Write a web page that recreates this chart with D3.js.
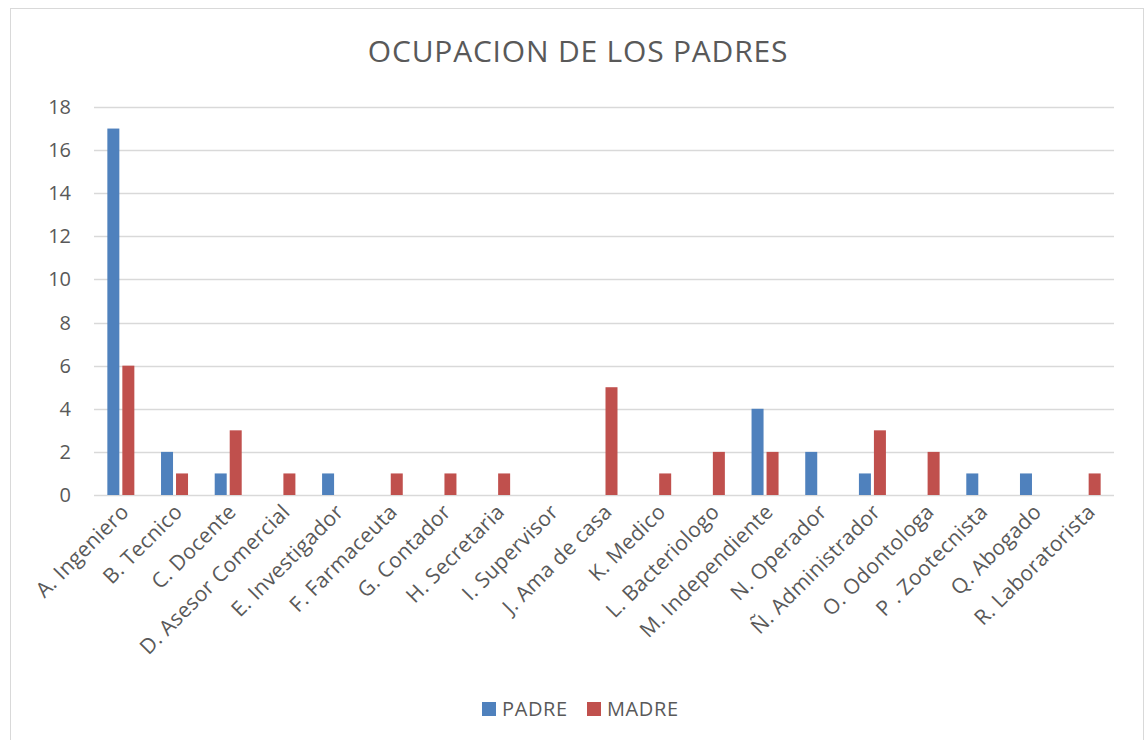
<!DOCTYPE html>
<html>
<head>
<meta charset="utf-8">
<script src="https://cdn.jsdelivr.net/npm/d3@7"></script>
<style>
  body { margin: 0; background: #fff; }
  text { font-family: "Open Sans", "Noto Sans", sans-serif; fill: #595959; }
</style>
</head>
<body>
<svg id="chart"></svg>
<script>
// Chart data.
const categories = [
  "A. Ingeniero", "B. Tecnico", "C. Docente", "D. Asesor Comercial",
  "E. Investigador", "F. Farmaceuta", "G. Contador", "H. Secretaria",
  "I. Supervisor", "J. Ama de casa", "K. Medico", "L. Bacteriologo",
  "M. Independiente", "N. Operador", "Ñ. Administrador", "O. Odontologa",
  "P . Zootecnista", "Q. Abogado", "R. Laboratorista"
];
const padre = [17, 2, 1, 0, 1, 0, 0, 0, 0, 0, 0, 0, 4, 2, 1, 0, 1, 1, 0];
const madre = [6, 1, 3, 1, 0, 1, 1, 1, 0, 5, 1, 2, 2, 0, 3, 2, 0, 0, 1];
const seriesNames = ["PADRE", "MADRE"];
const seriesColors = ["#4f81bd", "#c0504d"];
const yTicks = [0, 2, 4, 6, 8, 10, 12, 14, 16, 18];

const width = 1147;
const height = 740;
const margin = { top: 107, bottom: 245, left: 94, right: 33 };

const svg = d3.select("#chart").attr("width", width).attr("height", height);

function translate(x, y) {
  return "translate(" + x + "," + y + ")";
}

// Chart border.
svg.append("rect")
  .attr("x", 10.5).attr("y", 8.5)
  .attr("width", 1133).attr("height", 740)
  .attr("fill", "#fff")
  .attr("stroke", "#d9d9d9");

const plotW = width - margin.left - margin.right;
const plotH = height - margin.top - margin.bottom;

const xScale = d3.scaleBand().domain(categories).range([0, plotW]);
const yScale = d3.scaleLinear().domain([0, 18]).range([plotH, 0]);

const plot = svg.append("g").attr("transform", translate(margin.left, margin.top));

// Gridlines.
plot.append("g")
  .selectAll("line")
  .data(yTicks)
  .join("line")
  .attr("x1", 0).attr("x2", plotW)
  .attr("y1", d => Math.round(yScale(d)) + 0.5)
  .attr("y2", d => Math.round(yScale(d)) + 0.5)
  .attr("stroke", "#d9d9d9")
  .attr("stroke-width", 1.3);

// Y tick labels.
plot.append("g")
  .selectAll("text")
  .data(yTicks)
  .join("text")
  .attr("x", -23)
  .attr("y", d => yScale(d))
  .attr("dy", "0.35em")
  .attr("text-anchor", "end")
  .style("font-size", "20px")
  .text(d => d);

// Bars.
const barW = 12;
const barGap = 3;
const rows = categories.map((c, i) => ({ cat: c, values: [padre[i], madre[i]] }));

seriesNames.forEach((name, s) => {
  plot.append("g")
    .selectAll("rect")
    .data(rows)
    .join("rect")
    .filter(d => d.values[s] > 0)
    .attr("x", d => xScale(d.cat) + xScale.bandwidth() / 2 + (s === 0 ? -barW - barGap / 2 : barGap / 2))
    .attr("y", d => yScale(d.values[s]))
    .attr("width", barW)
    .attr("height", d => yScale(0) - yScale(d.values[s]))
    .attr("fill", seriesColors[s]);
});

// Category labels, rotated.
plot.append("g")
  .selectAll("text")
  .data(categories)
  .join("text")
  .attr("transform", d => translate(xScale(d) + xScale.bandwidth() / 2 + 4, plotH + 13) + " rotate(-45)")
  .attr("text-anchor", "end")
  .attr("dy", "0.35em")
  .style("font-size", "21px")
  .style("letter-spacing", "0.3px")
  .text(d => d);

// Title.
svg.append("text")
  .attr("x", 578)
  .attr("y", 62)
  .attr("text-anchor", "middle")
  .style("font-size", "30px")
  .style("letter-spacing", "0.8px")
  .text("OCUPACION DE LOS PADRES");

// Legend.
const legend = svg.append("g").attr("transform", translate(482, 702));
const legendX = [0, 105];
seriesNames.forEach((name, s) => {
  const item = legend.append("g").attr("transform", translate(legendX[s], 0));
  item.append("rect")
    .attr("width", 14).attr("height", 14)
    .attr("fill", seriesColors[s]);
  item.append("text")
    .attr("x", 20).attr("y", 7)
    .attr("dy", "0.35em")
    .style("font-size", "20px")
    .style("letter-spacing", "0.6px")
    .text(name);
});
</script>
</body>
</html>
